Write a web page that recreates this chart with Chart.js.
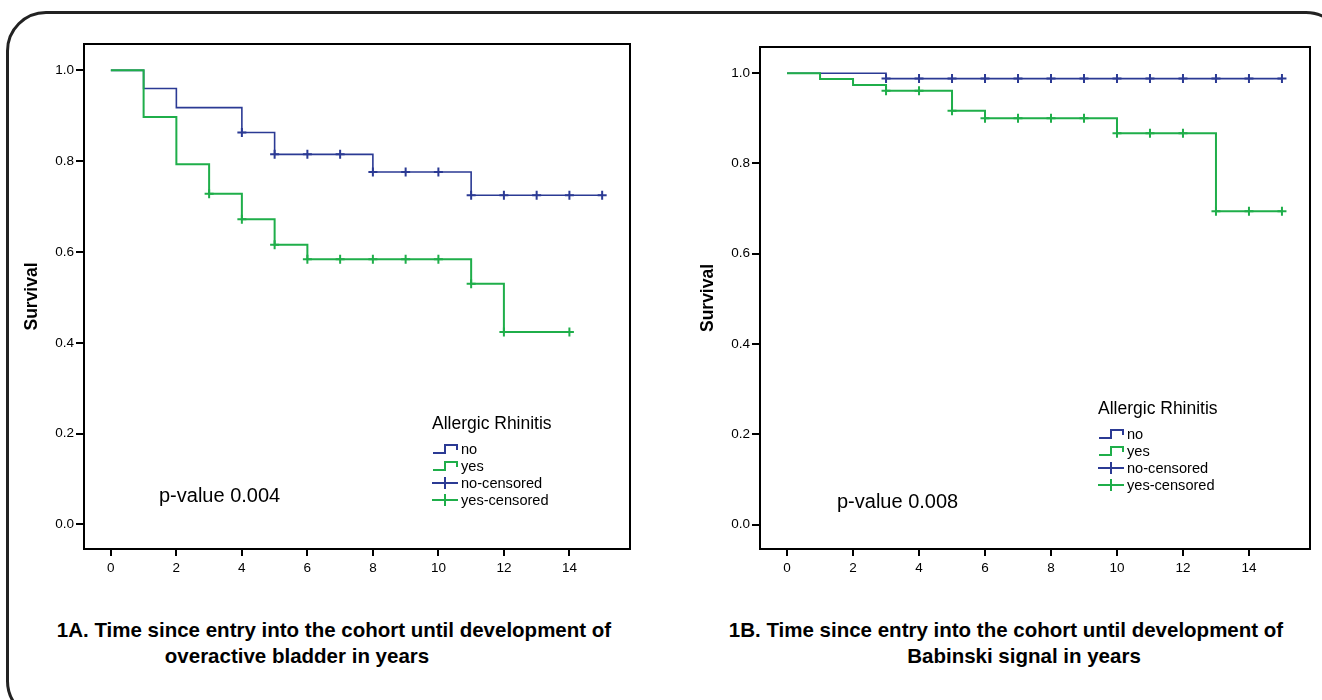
<!DOCTYPE html>
<html>
<head>
<meta charset="utf-8">
<script src="https://cdn.jsdelivr.net/npm/chart.js@4.4.0/dist/chart.umd.min.js"></script>
<style>
  html, body { margin: 0; padding: 0; background: #fff; }
  body { width: 1322px; height: 700px; position: relative; overflow: hidden; font-family: "Liberation Sans", Arial, sans-serif; }
  .frame { position: absolute; left: 6px; top: 11px; width: 1340px; height: 710px; border: 3px solid #222; border-radius: 40px; box-sizing: border-box; }
  .box { position: absolute; top: 0; height: 600px; }
  .txt { position: absolute; white-space: nowrap; color: #000; }
  .pval { font-size: 20px; line-height: 24px; }
  .cap { font-weight: bold; font-size: 20.5px; line-height: 24px; transform: translateX(-50%); }
  .legend { position: absolute; font-size: 14.6px; }
  .legend .ttl { font-size: 17.5px; line-height: 20px; margin-bottom: 8px; }
  .legend .row { display: flex; align-items: center; height: 16.8px; }
  .legend svg { margin-right: 3px; }
</style>
</head>
<body>
<div class="frame"></div>
<div class="box" style="left:0;width:660px"><canvas id="chartA"></canvas></div>
<div class="box" style="left:661px;width:661px"><canvas id="chartB"></canvas></div>

<div class="txt pval" style="left:159px;top:483px">p-value 0.004</div>
<div class="txt pval" style="left:837px;top:489px">p-value 0.008</div>

<div id="legendA" class="legend" style="left:432px;top:413px"></div>
<div id="legendB" class="legend" style="left:1098px;top:398px"></div>

<div class="txt cap" style="left:334px;top:618px">1A. Time since entry into the cohort until development of</div>
<div class="txt cap" style="left:297px;top:644px">overactive bladder in years</div>
<div class="txt cap" style="left:1006px;top:618px">1B. Time since entry into the cohort until development of</div>
<div class="txt cap" style="left:1024px;top:644px">Babinski signal in years</div>

<script>
// data
var xTicks = [0, 2, 4, 6, 8, 10, 12, 14];
var yTicks = [0, 0.2, 0.4, 0.6, 0.8, 1.0];
var groupNames = ['no', 'yes', 'no-censored', 'yes-censored'];
var legendTitle = 'Allergic Rhinitis';

// 1A overactive bladder
var noTimesA = [0, 1, 2, 4, 5, 8, 11, 15];
var noSurvA = [1.0, 0.960, 0.918, 0.863, 0.815, 0.776, 0.725, 0.725];
var noCensA = [4, 5, 6, 7, 8, 9, 10, 11, 12, 13, 14, 15];
var yesTimesA = [0, 1, 2, 3, 4, 5, 6, 11, 12, 14];
var yesSurvA = [1.0, 0.897, 0.793, 0.728, 0.672, 0.616, 0.584, 0.530, 0.424, 0.424];
var yesCensA = [3, 4, 5, 6, 7, 8, 9, 10, 11, 12, 14];

// 1B Babinski signal
var noTimesB = [0, 3, 15];
var noSurvB = [1.0, 0.988, 0.988];
var noCensB = [3, 4, 5, 6, 7, 8, 9, 10, 11, 12, 13, 14, 15];
var yesTimesB = [0, 1, 2, 3, 5, 6, 10, 13, 15];
var yesSurvB = [1.0, 0.987, 0.974, 0.961, 0.917, 0.900, 0.867, 0.694, 0.694];
var yesCensB = [3, 4, 5, 6, 7, 8, 9, 10, 11, 12, 13, 14, 15];

var blue = '#2b3a94';
var green = '#1fae4a';

function pts(times, surv) {
    return times.map(function (t, i) { return { x: t, y: surv[i] }; });
}
// censor marks sit on the step curve
function censPts(cens, times, surv) {
    return cens.map(function (t) {
        var v = surv[0];
        for (var i = 0; i < times.length; i++) if (times[i] <= t) v = surv[i];
        return { x: t, y: v };
    });
}

var boxPlugin = {
    id: 'box',
    afterDraw: function (chart) {
        var a = chart.chartArea, c = chart.ctx;
        c.save();
        c.strokeStyle = '#000';
        c.lineWidth = 2;
        c.strokeRect(a.left, a.top, a.right - a.left, a.bottom - a.top);
        c.restore();
    }
};

function makeChart(id, noT, noS, noC, yesT, yesS, yesC, pad, yWidth, titlePad) {
    var ctx = document.getElementById(id).getContext('2d');
    return new Chart(ctx, {
        type: 'scatter',
        data: {
            datasets: [{
                label: groupNames[0],
                data: pts(noT, noS),
                showLine: true, stepped: 'before',
                borderColor: blue, borderWidth: 1.6,
                pointRadius: 0, order: 4
            }, {
                label: groupNames[1],
                data: pts(yesT, yesS),
                showLine: true, stepped: 'before',
                borderColor: green, borderWidth: 2,
                pointRadius: 0, order: 2
            }, {
                label: groupNames[2],
                data: censPts(noC, noT, noS),
                showLine: false, pointStyle: 'cross',
                pointRadius: 4.5, pointBorderWidth: 2,
                borderColor: blue, backgroundColor: blue, order: 3
            }, {
                label: groupNames[3],
                data: censPts(yesC, yesT, yesS),
                showLine: false, pointStyle: 'cross',
                pointRadius: 4.5, pointBorderWidth: 2,
                borderColor: green, backgroundColor: green, order: 1
            }]
        },
        options: {
            responsive: false,
            animation: false,
            maintainAspectRatio: false,
            layout: { padding: pad },
            plugins: { legend: { display: false }, tooltip: { enabled: false } },
            scales: {
                x: {
                    type: 'linear', min: -0.82, max: 15.85,
                    afterBuildTicks: function (s) { s.ticks = xTicks.map(function (v) { return { value: v }; }); },
                    afterFit: function (s) { s.height = 51; },
                    grid: { drawOnChartArea: false, drawTicks: true, tickLength: 7, color: '#000', lineWidth: 2 },
                    border: { display: true, color: '#000', width: 2 },
                    ticks: { color: '#000', padding: 4, maxRotation: 0, font: { family: 'Liberation Sans', size: 13.5 } }
                },
                y: {
                    type: 'linear', min: -0.054, max: 1.058,
                    afterBuildTicks: function (s) { s.ticks = yTicks.map(function (v) { return { value: v }; }); },
                    afterFit: function (s) { s.width = yWidth; },
                    grid: { drawOnChartArea: false, drawTicks: true, tickLength: 8, color: '#000', lineWidth: 2 },
                    border: { display: true, color: '#000', width: 2 },
                    ticks: { color: '#000', padding: 2, font: { family: 'Liberation Sans', size: 13.5 },
                        callback: function (v) { return v.toFixed(1); } },
                    title: { display: true, text: 'Survival', color: '#000',
                        padding: { top: titlePad, bottom: 0 },
                        font: { family: 'Liberation Sans', size: 17.5, weight: 'bold' } }
                }
            }
        },
        plugins: [boxPlugin]
    });
}

function setSize(id, w, h) {
    var cv = document.getElementById(id);
    cv.width = w; cv.height = h;
    cv.style.width = w + 'px'; cv.style.height = h + 'px';
}
setSize('chartA', 660, 600);
setSize('chartB', 661, 600);

var chartA = makeChart('chartA', noTimesA, noSurvA, noCensA, yesTimesA, yesSurvA, yesCensA,
    { top: 44, right: 30, left: 0, bottom: 0 }, 84, 22);
var chartB = makeChart('chartB', noTimesB, noSurvB, noCensB, yesTimesB, yesSurvB, yesCensB,
    { top: 47, right: 12, left: 0, bottom: 0 }, 99, 37);

function buildLegend(elId, chart) {
    var el = document.getElementById(elId);
    var html = '<div class="ttl">' + legendTitle + '</div>';
    chart.data.datasets.forEach(function (ds) {
        var icon = ds.showLine
            ? '<path d="M1 11 H13 V3 H25 V8" fill="none" stroke="' + ds.borderColor + '" stroke-width="2"/>'
            : '<path d="M0 7 H26 M13 1 V13" fill="none" stroke="' + ds.borderColor + '" stroke-width="2"/>';
        html += '<div class="row"><svg width="26" height="14" viewBox="0 0 26 14">' + icon + '</svg><span>' + ds.label + '</span></div>';
    });
    el.innerHTML = html;
}
buildLegend('legendA', chartA);
buildLegend('legendB', chartB);
</script>
</body>
</html>
